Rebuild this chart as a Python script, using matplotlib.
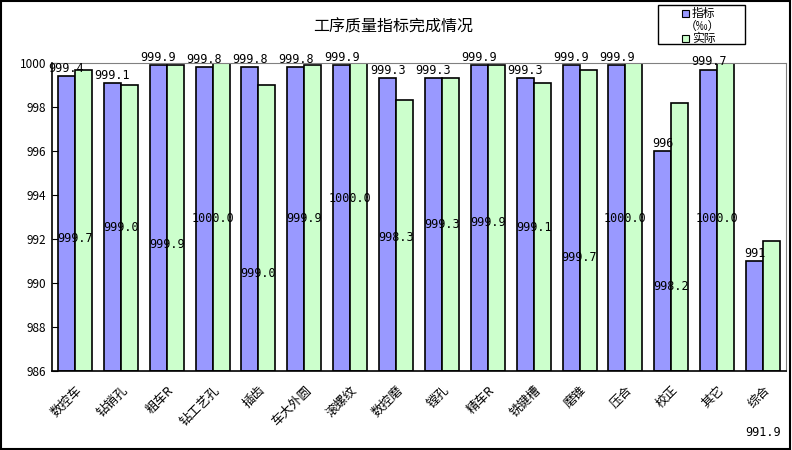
import numpy as np
import matplotlib
matplotlib.use("Agg")
import matplotlib.pyplot as plt
from matplotlib.patches import Rectangle

plt.rcParams['font.family'] = ['Noto Sans CJK SC', 'DejaVu Sans']

# data
categories = ['数控车', '钻销孔', '粗车R', '钻工艺孔', '插齿', '车大外圆', '滚螺纹', '数控磨',
              '镗孔', '精车R', '铣键槽', '磨锥', '压合', '校正', '其它', '综合']
target = [999.4, 999.1, 999.9, 999.8, 999.8, 999.8, 999.9, 999.3,
          999.3, 999.9, 999.3, 999.9, 999.9, 996, 999.7, 991]
actual = [999.7, 999.0, 999.9, 1000.0, 999.0, 999.9, 1000.0, 998.3,
          999.3, 999.9, 999.1, 999.7, 1000.0, 998.2, 1000.0, 991.9]
target_text = ['999.4', '999.1', '999.9', '999.8', '999.8', '999.8', '999.9', '999.3',
               '999.3', '999.9', '999.3', '999.9', '999.9', '996', '999.7', '991']
actual_text = ['999.7', '999.0', '999.9', '1000.0', '999.0', '999.9', '1000.0', '998.3',
               '999.3', '999.9', '999.1', '999.7', '1000.0', '998.2', '1000.0', '991.9']
# where the "actual" labels sit in the original (Excel put them mid-plot)
actual_label_y = [992.0, 992.5, 991.77, 992.95, 990.45, 992.95, 993.86, 992.09,
                  992.64, 992.73, 992.5, 991.18, 992.95, 989.86, 992.95, 983.2]

blue = '#9999FF'
green = '#CCFFCC'

fig = plt.figure(figsize=(7.92, 4.5), dpi=100)
ax = fig.add_axes([0.0657, 0.1756, 0.9267, 0.6844])

x = np.arange(len(categories))
w = 0.37
base = 986
ax.bar(x - w / 2, np.array(target) - base, w, bottom=base, color=blue,
       edgecolor='black', linewidth=1.2)
ax.bar(x + w / 2, np.array(actual) - base, w, bottom=base, color=green,
       edgecolor='black', linewidth=1.2)

num_font = dict(family='DejaVu Sans Mono', fontsize=8.5)
for i in range(len(categories)):
    ax.text(x[i] - w / 2, target[i] + 0.05, target_text[i], ha='center', va='bottom',
            clip_on=False, **num_font)
    ax.text(x[i], actual_label_y[i], actual_text[i], ha='center', va='center',
            clip_on=False, **num_font)

ax.set_xlim(-0.5, len(categories) - 0.5)
ax.set_ylim(986, 1000)
ax.set_yticks(range(986, 1001, 2))
ax.tick_params(axis='y', direction='in', length=4, labelsize=8.5, pad=4)
ax.tick_params(axis='x', length=0, pad=9)
ax.set_xticks(x)
ax.set_xticklabels(categories, rotation=45, ha='right', rotation_mode='anchor', fontsize=9)

for s in ['top', 'right']:
    ax.spines[s].set_color('#808080')
for s in ['left', 'bottom']:
    ax.spines[s].set_color('black')
    ax.spines[s].set_linewidth(1.2)

fig.text(0.497, 0.94, '工序质量指标完成情况', ha='center', va='center', fontsize=11.5)

# hand-built legend box (Excel style, wide padding)
def px(xp, yp):
    return xp / 792, 1 - yp / 450

fig.patches.append(Rectangle(px(658, 44), 87 / 792, 39 / 450, transform=fig.transFigure,
                             fill=False, edgecolor='black', linewidth=1.0))
fig.patches.append(Rectangle(px(682, 17), 7 / 792, 7 / 450, transform=fig.transFigure,
                             facecolor=blue, edgecolor='black', linewidth=0.8))
fig.patches.append(Rectangle(px(682, 42), 7 / 792, 7 / 450, transform=fig.transFigure,
                             facecolor=green, edgecolor='black', linewidth=0.8))
fig.text(*px(692, 13.5), '指标', ha='left', va='center', fontsize=8.5)
fig.text(*px(702, 26), '（‰）', ha='center', va='center', fontsize=8.5)
fig.text(*px(692, 38.5), '实际', ha='left', va='center', fontsize=8.5)

fig.patches.append(Rectangle((0.001, 0.002), 0.997, 0.995, transform=fig.transFigure,
                             fill=False, edgecolor='black', linewidth=1.5))

fig.savefig('out.png', dpi=100)
